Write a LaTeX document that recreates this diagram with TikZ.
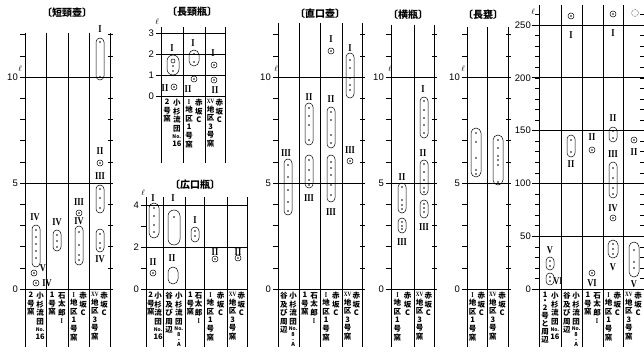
\documentclass[tikz,border=0pt]{standalone}
\usepackage{fontspec}
\setmainfont{Liberation Sans}
\newfontfamily\jp{Noto Sans CJK JP}
\newfontfamily\rom[FakeStretch=0.8]{Liberation Serif}
\usetikzlibrary{positioning}

\tikzset{
  grid/.style={line width=0.5pt},
  heavy/.style={line width=0.8pt},
  capsule/.style={line width=0.5pt},
  numeral/.style={font=\rom\bfseries\fontsize{10.5}{10.5}\selectfont, inner sep=0pt},
  ticklab/.style={font=\fontsize{9.5}{9.5}\selectfont, anchor=east, inner sep=0pt},
  title/.style={font=\jp\bfseries\fontsize{10}{10}\selectfont, inner sep=0pt},
  vlab/.style={font=\jp\bfseries\fontsize{7.5}{8.6}\selectfont, align=center, anchor=north, inner sep=0pt},
  unit/.style={font=\fontsize{8}{8}\selectfont, inner sep=0pt}
}

% one capsule: x, top, bottom, half width
\newcommand{\capsule}[4]{\draw[capsule,rounded corners=#4pt] (#1-#4,#2) rectangle (#1+#4,#3);}
% dots in a column
\newcommand{\pts}[2]{\foreach \yy in {#2} {\fill (#1,\yy) circle (0.8pt);}}
% single find
\newcommand{\ring}[2]{\draw[capsule] (#1,#2) circle (3pt); \fill (#1,#2) circle (0.8pt);}
% two lines of vertical text under a column
\newcommand{\collab}[6]{%
  \node[vlab] (#1l) at ({#2+(#3-#2)*0.28},#4) {#5};
  \node[vlab] (#1r) at ({#2+(#3-#2)*0.72},#4) {#6};}

\newcommand{\lbNo}{{\fontsize{5}{5}\selectfont No.}}
\newcommand{\lbSmall}[1]{{\fontsize{5.5}{5.5}\selectfont #1}}
\newcommand{\lbKosugi}{小\\杉\\流\\団\\[-1pt]\lbNo\\[-1pt]16}
\newcommand{\lbKosugiA}{小\\杉\\流\\団\\[-2pt]\lbNo\\[-3.4pt]\lbSmall{8}\\[-3.6pt]\lbSmall{-}\\[-3.6pt]\lbSmall{A}}
\newcommand{\lbTani}{谷\\及\\び\\周\\辺}
\newcommand{\lbIshi}{石\\太\\郎\\{\rom I}}
\newcommand{\lbAka}{赤\\坂\\C}
\newcommand{\lbIchi}{{\rom I}\\地\\区\\1\\号\\窯}
\newcommand{\lbJugo}{{\rom\fontsize{6.5}{6.5}\selectfont XV}\\地\\区\\3\\号\\窯}
\newcommand{\lbNi}{2\\号\\窯}
\newcommand{\lbIchigo}{1\\号\\窯}
\newcommand{\lbIchini}{1\\[-2.4pt]・\\[-2.4pt]2\\[-0.6pt]号\\[-0.6pt]と\\[-0.6pt]周\\[-0.6pt]辺}

\begin{document}
\begin{tikzpicture}[x=1pt,y=-1pt]
  \useasboundingbox (0,0) rectangle (644,347);

  %短頸壺
  \node[title] (t1) at (67,13) {〔短頸壺〕};
  \foreach \x in {25,46,68,89,110} \draw[grid] (\x,33) -- (\x,347);
  \foreach \k in {0,...,12} {
    \draw[grid] (20,289-21.2*\k) -- (25,289-21.2*\k);
    \draw[grid] (108,289-21.2*\k) -- (113,289-21.2*\k);
  }
  \foreach \v in {0,5,10} {
    \draw[heavy] (20,289-21.2*\v) -- (110,289-21.2*\v);
    \node[ticklab] (p1y\v) at (18,289-21.2*\v) {\v};
  }
  \node[unit] (p1u) at (20,69) {$\ell$};

  \node[numeral] (p1n1) at (100,29) {I};
  \capsule{100}{38}{80}{4} \pts{100}{42,77}
  \node[numeral] (p1n2) at (100,151) {II};
  \ring{100}{163}
  \node[numeral] (p1n3) at (100,176) {III};
  \capsule{100}{185}{213}{4} \pts{100}{189,198,208}
  \capsule{100}{229}{252}{4} \pts{100}{234,243,248}
  \node[numeral] (p1n4) at (100,259) {IV};
  \node[numeral] (p1n5) at (79,202) {III};
  \ring{79}{213}
  \node[numeral] (p1n6) at (79,221) {IV};
  \capsule{79}{226}{265}{4} \pts{79}{232,245,255,260}
  \node[numeral] (p1n7) at (57,222) {IV};
  \capsule{57}{230}{251}{4} \pts{57}{235,241,247}
  \node[numeral] (p1n8) at (35,217) {IV};
  \capsule{36}{225}{267}{4} \pts{36}{230,237,244,251,258}
  \ring{34}{273}
  \node[numeral] (p1n9) at (43,268) {V};
  \ring{36}{283}
  \node[numeral] (p1n10) at (47,283) {IV};

  \collab{p1c1}{25}{46}{292}{\lbNi}{\lbKosugi}
  \collab{p1c2}{46}{68}{292}{\lbIchigo}{\lbIshi}
  \collab{p1c3}{68}{89}{292}{\lbIchi}{\lbAka}
  \collab{p1c4}{89}{110}{292}{\lbJugo}{\lbAka}

  %長頸瓶
  \node[title] (t2) at (192,12) {〔長頸瓶〕};
  \foreach \x in {161,183,205,225} \draw[grid] (\x,27) -- (\x,163);
  \foreach \v in {0,1,2,3} {
    \draw[heavy] (156,96-21*\v) -- (225,96-21*\v);
    \node[ticklab] (p2y\v) at (154,96-21*\v) {\v};
  }
  \node[unit] (p2u) at (157,22) {$\ell$};

  \node[numeral] (p2n1) at (172,48) {I};
  \capsule{173}{55}{75}{6} \pts{173}{66,71}
  \draw[capsule] (173,61) circle (2pt);
  \node[numeral] (p2n2) at (165,88) {II};
  \ring{174}{87}
  \node[numeral] (p2n3) at (193,43) {I};
  \capsule{194}{50}{66}{5} \pts{194}{54,62}
  \ring{194}{79}
  \node[numeral] (p2n4) at (188,89) {II};
  \node[numeral] (p2n5) at (213,53) {I};
  \ring{214}{65}
  \ring{214}{80}
  \node[numeral] (p2n6) at (215,90) {II};

  \collab{p2c1}{161}{183}{99}{\lbNi}{\lbKosugi}
  \collab{p2c2}{183}{205}{99}{\lbIchi}{\lbAka}
  \collab{p2c3}{205}{225}{99}{\lbJugo}{\lbAka}

  %広口瓶
  \node[title] (t3) at (195,185) {〔広口瓶〕};
  \foreach \x in {146,163,185,204,227,247} \draw[grid] (\x,197) -- (\x,347);
  \foreach \k in {0,...,4} \draw[grid] (141,289-21*\k) -- (146,289-21*\k);
  \foreach \v in {0,2,4} {
    \draw[heavy] (141,289-21*\v) -- (247,289-21*\v);
    \node[ticklab] (p3y\v) at (139,289-21*\v) {\v};
  }
  \node[unit] (p3u) at (143,193) {$\ell$};

  \node[numeral] (p3n1) at (153,198) {I};
  \capsule{154}{203}{238}{5} \pts{154}{208,216,225,232}
  \node[numeral] (p3n2) at (153,262) {II};
  \ring{153}{273}
  \node[numeral] (p3n3) at (173,198) {I};
  \capsule{174}{210}{245}{6} \pts{174}{217}
  \node[numeral] (p3n4) at (172,258) {II};
  \capsule{173}{267}{284}{5}
  \node[numeral] (p3n5) at (195,220) {I};
  \capsule{195}{227}{242}{4} \pts{195}{231,236}
  \node[numeral] (p3n6) at (215,252) {II};
  \ring{215}{259}
  \node[numeral] (p3n7) at (238,252) {II};
  \ring{238}{258}

  \collab{p3c1}{146}{163}{292}{\lbNi}{\lbKosugi}
  \collab{p3c2}{163}{185}{292}{\lbTani}{\lbKosugiA}
  \collab{p3c3}{185}{204}{292}{\lbIchigo}{\lbIshi}
  \collab{p3c4}{204}{227}{292}{\lbIchi}{\lbAka}
  \collab{p3c5}{227}{247}{292}{\lbJugo}{\lbAka}

  %直口壺
  \node[title] (t4) at (320,14) {〔直口壺〕};
  \foreach \x in {278,299,320,342,362} \draw[grid] (\x,23) -- (\x,347);
  \foreach \k in {0,...,12} {
    \draw[grid] (273,289-21.2*\k) -- (278,289-21.2*\k);
    \draw[grid] (360,289-21.2*\k) -- (365,289-21.2*\k);
  }
  \foreach \v in {0,5,10} {
    \draw[heavy] (273,289-21.2*\v) -- (362,289-21.2*\v);
    \node[ticklab] (p4y\v) at (271,289-21.2*\v) {\v};
  }
  \node[unit] (p4u) at (276,69) {$\ell$};

  \node[numeral] (p4n1) at (286,153) {III};
  \capsule{288}{159}{215}{4} \pts{288}{165,177,190,202,211}
  \node[numeral] (p4n2) at (309,97) {II};
  \capsule{309}{103}{145}{4} \pts{309}{108,116,125,140}
  \capsule{309}{155}{188}{4} \pts{309}{160,170,180,185}
  \node[numeral] (p4n3) at (309,198) {III};
  \node[numeral] (p4n4) at (331,39) {I};
  \ring{331}{51}
  \node[numeral] (p4n5) at (331,99) {II};
  \capsule{331}{107}{148}{4} \pts{331}{112,120,135,143}
  \capsule{331}{155}{202}{4} \pts{331}{162,168,175,185,195}
  \node[numeral] (p4n6) at (331,212) {III};
  \node[numeral] (p4n7) at (350,48) {I};
  \capsule{350}{53}{98}{4} \pts{350}{60,68,78,85,90}
  \node[numeral] (p4n8) at (350,150) {III};
  \ring{350}{161}

  \collab{p4c1}{278}{299}{292}{\lbTani}{\lbKosugiA}
  \collab{p4c2}{299}{320}{292}{\lbIchigo}{\lbIshi}
  \collab{p4c3}{320}{342}{292}{\lbIchi}{\lbAka}
  \collab{p4c4}{342}{362}{292}{\lbJugo}{\lbAka}

  %横瓶
  \node[title] (t5) at (408,15) {〔横瓶〕};
  \foreach \x in {391,414,434} \draw[grid] (\x,25) -- (\x,347);
  \foreach \k in {0,...,12} {
    \draw[grid] (386,289-21.2*\k) -- (391,289-21.2*\k);
    \draw[grid] (432,289-21.2*\k) -- (437,289-21.2*\k);
  }
  \foreach \v in {0,5,10} {
    \draw[heavy] (386,289-21.2*\v) -- (434,289-21.2*\v);
    \node[ticklab] (p5y\v) at (384,289-21.2*\v) {\v};
  }
  \node[unit] (p5u) at (390,69) {$\ell$};

  \node[numeral] (p5n1) at (402,177) {II};
  \capsule{402}{183}{213}{4} \pts{402}{187,200,205,209}
  \capsule{402}{218}{233}{4} \pts{402}{222,226,229}
  \node[numeral] (p5n2) at (402,242) {III};
  \node[numeral] (p5n3) at (423,89) {I};
  \capsule{424}{97}{138}{4} \pts{424}{101,110,118,125,133}
  \node[numeral] (p5n4) at (423,153) {II};
  \capsule{424}{160}{195}{4} \pts{424}{164,172,180,188,192}
  \capsule{424}{200}{218}{4} \pts{424}{204,208,212}
  \node[numeral] (p5n5) at (424,227) {III};

  \collab{p5c1}{391}{414}{292}{\lbIchi}{\lbAka}
  \collab{p5c2}{414}{434}{292}{\lbJugo}{\lbAka}

  %長甕
  \node[title] (t6) at (483,15) {〔長甕〕};
  \foreach \x in {467,487,508} \draw[grid] (\x,27) -- (\x,347);
  \foreach \k in {0,...,12} {
    \draw[grid] (462,289-21.2*\k) -- (467,289-21.2*\k);
    \draw[grid] (506,289-21.2*\k) -- (511,289-21.2*\k);
  }
  \foreach \v in {0,5,10} {
    \draw[heavy] (462,289-21.2*\v) -- (508,289-21.2*\v);
    \node[ticklab] (p6y\v) at (460,289-21.2*\v) {\v};
  }
  \node[unit] (p6u) at (463,69) {$\ell$};

  \capsule{476}{128}{177}{5} \pts{476}{133,142,158,170,174}
  \capsule{498}{135}{185}{5} \pts{498}{140,148,156,160,165,182}

  \collab{p6c1}{467}{487}{292}{\lbIchi}{\lbAka}
  \collab{p6c2}{487}{508}{292}{\lbJugo}{\lbAka}

  %large jars
  \foreach \x in {539,561,582,603,623,644} \draw[grid] (\x,5) -- (\x,347);
  \foreach \k in {0,...,26} {
    \draw[grid] (535,289-10.56*\k) -- (539,289-10.56*\k);
    \draw[grid] (640,289-10.56*\k) -- (644,289-10.56*\k);
  }
  \foreach \v in {0,50,...,250} {
    \draw[heavy] (532,289-1.056*\v) -- (644,289-1.056*\v);
    \node[ticklab] (p7y\v) at (531,289-1.056*\v) {\v};
  }
  \node[unit] (p7u) at (533,12) {$\ell$};

  \node[numeral] (p7n1) at (550,250) {V};
  \capsule{550}{257}{270}{4} \pts{550}{261,266}
  \capsule{550}{273}{285}{4} \pts{550}{277,281}
  \node[numeral] (p7n2) at (558,281) {VI};
  \ring{571}{16}
  \node[numeral] (p7n3) at (571,35) {I};
  \capsule{571}{135}{157}{4} \pts{571}{140,152}
  \node[numeral] (p7n4) at (571,164) {II};
  \node[numeral] (p7n5) at (592,137) {II};
  \ring{592}{150}
  \ring{592}{273}
  \node[numeral] (p7n6) at (592,283) {VI};
  \ring{613}{14}
  \node[numeral] (p7n7) at (613,33) {I};
  \node[numeral] (p7n8) at (613,118) {II};
  \capsule{613}{127}{142}{4} \pts{613}{131,138}
  \node[numeral] (p7n9) at (613,154) {III};
  \capsule{613}{162}{198}{4} \pts{613}{168,178,188,194}
  \node[numeral] (p7n10) at (613,208) {IV};
  \ring{613}{218}
  \capsule{613}{240}{258}{5} \pts{613}{244,249,254}
  \node[numeral] (p7n11) at (613,267) {V};
  \draw[capsule,densely dotted] (635,13) circle (3.5pt);
  \ring{634}{140}
  \node[numeral] (p7n12) at (634,152) {II};
  \capsule{634}{242}{277}{5} \pts{634}{250,262,268}
  \node[numeral] (p7n13) at (634,284) {V};

  \collab{p7c1}{539}{561}{292}{\lbIchini}{\lbKosugi}
  \collab{p7c2}{561}{582}{292}{\lbTani}{\lbKosugiA}
  \collab{p7c3}{582}{603}{292}{\lbIchigo}{\lbIshi}
  \collab{p7c4}{603}{623}{292}{\lbIchi}{\lbAka}
  \collab{p7c5}{623}{644}{292}{\lbJugo}{\lbAka}
\end{tikzpicture}
\end{document}
